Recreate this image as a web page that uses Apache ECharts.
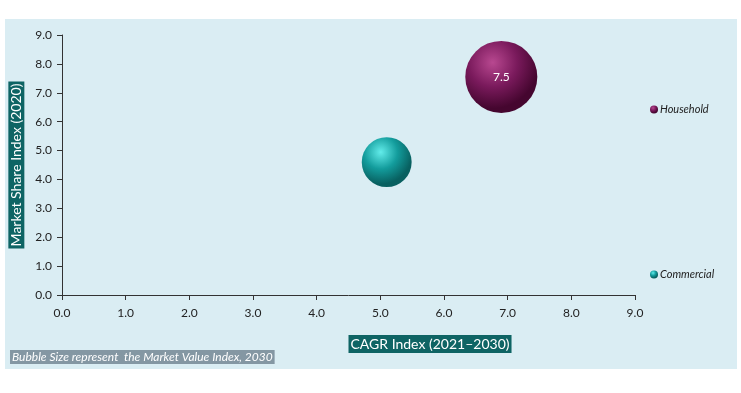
<!DOCTYPE html>
<html>
<head>
<meta charset="utf-8">
<script src="https://cdn.jsdelivr.net/npm/echarts@6/dist/echarts.min.js"></script>
<style>
html,body{margin:0;padding:0;background:#fff;}
#c{width:741px;height:393px;}
</style>
</head>
<body>
<div id="c"></div>
<script>
const seriesNames = ['Household', 'Commercial'];
const cagrIndex = [6.9, 5.1];
const shareIndex = [7.55, 4.6];
const valueIndex = [7.5, 3.6];
const bubbleLabels = ['7.5', ''];
const xAxisTitle = 'CAGR Index (2021–2030)';
const yAxisTitle = 'Market Share Index (2020)';
const noteText = 'Bubble Size represent  the Market Value Index, 2030';

const FONT = 'Lato';
function grad(light, mid, dark) {
  return new echarts.graphic.RadialGradient(0.38, 0.3, 0.75, [
    {offset: 0, color: light},
    {offset: 0.45, color: mid},
    {offset: 0.85, color: dark},
    {offset: 1, color: dark}
  ]);
}
const colors = [
  grad('#b84890', '#7a1a5c', '#45062f'),
  grad('#62ecea', '#139c9c', '#086060')
];

const chart = echarts.init(document.getElementById('c'), null, {renderer: 'canvas'});
const series = seriesNames.map((n, i) => ({
  name: n,
  type: 'scatter',
  data: [[cagrIndex[i], shareIndex[i], valueIndex[i], bubbleLabels[i]]],
  symbolSize: d => Math.sqrt(d[2]) * 26.3,
  itemStyle: {color: colors[i], opacity: 1},
  label: {
    show: bubbleLabels[i] !== '',
    position: 'inside',
    formatter: p => p.data[3],
    color: '#fff',
    fontFamily: FONT,
    fontSize: 12
  },
  emphasis: {disabled: true}
}));

chart.setOption({
  animation: false,
  backgroundColor: '#fff',
  textStyle: {fontFamily: FONT},
  graphic: [{
    type: 'rect', z: -100, silent: true,
    shape: {x: 5, y: 19, width: 732, height: 350},
    style: {fill: '#daedf3'}
  }, {
    type: 'text', left: 10, top: 350, z: 10,
    style: {
      text: noteText, fill: '#fff', font: 'italic 12px ' + FONT,
      backgroundColor: '#8497a3', padding: [1, 2, 1, 2]
    }
  }],
  legend: {
    orient: 'vertical',
    left: 645, top: 99,
    itemGap: 154,
    itemWidth: 8, itemHeight: 8,
    icon: 'circle',
    data: seriesNames,
    textStyle: {fontStyle: 'italic', fontSize: 11, color: '#222', fontFamily: FONT, padding: [0, 0, 0, -3]}
  },
  grid: {left: 62, right: 106, top: 35, bottom: 98},
  xAxis: {
    type: 'value', min: 0, max: 9, interval: 1,
    name: xAxisTitle, nameLocation: 'middle', nameGap: 40,
    nameTextStyle: {align: 'left', color: '#fff', backgroundColor: '#0e6464', fontSize: 14, fontFamily: FONT, padding: [2, 2, 2, 2]},
    axisLine: {show: true, onZero: false, lineStyle: {color: '#333'}},
    axisTick: {show: true, length: 5, lineStyle: {color: '#333'}},
    axisLabel: {color: '#222', fontSize: 12, margin: 12, formatter: v => v.toFixed(1)},
    splitLine: {show: false}
  },
  yAxis: {
    type: 'value', min: 0, max: 9, interval: 1,
    name: yAxisTitle, nameLocation: 'middle', nameGap: 37,
    nameTextStyle: {color: '#fff', backgroundColor: '#0e6464', fontSize: 14, fontFamily: FONT, padding: [1, 2, 1, 2]},
    axisLine: {show: true, lineStyle: {color: '#333'}},
    axisTick: {show: true, length: 5, lineStyle: {color: '#333'}},
    axisLabel: {color: '#222', fontSize: 12, margin: 10, formatter: v => v.toFixed(1)},
    splitLine: {show: false}
  },
  series: series
});
</script>
</body>
</html>
